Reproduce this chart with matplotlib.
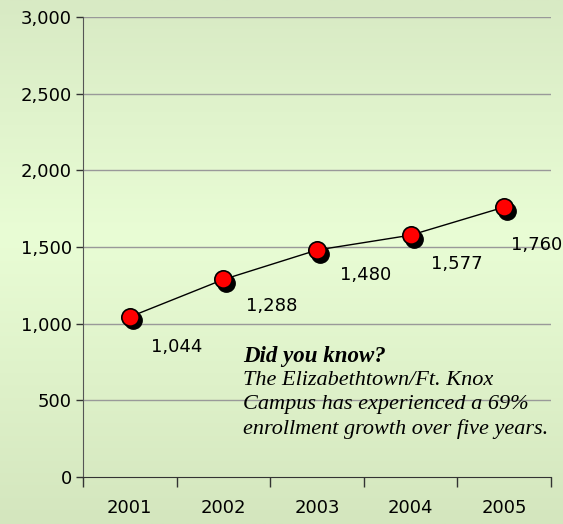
import numpy as np
import matplotlib.pyplot as plt
import matplotlib.transforms as mtransforms

years = ["2001", "2002", "2003", "2004", "2005"]
enrollment = [1044, 1288, 1480, 1577, 1760]
value_labels = ["1,044", "1,288", "1,480", "1,577", "1,760"]
y_ticks = [0, 500, 1000, 1500, 2000, 2500, 3000]
y_tick_labels = ["0", "500", "1,000", "1,500", "2,000", "2,500", "3,000"]
note_title = "Did you know?"
note_body = "The Elizabethtown/Ft. Knox\nCampus has experienced a 69%\nenrollment growth over five years."

# label offsets in points (last one pushed in to stay inside the figure)
label_offsets = [(34, -22), (35, -19), (35, -18), (33, -21), (23, -27)]

fig = plt.figure(figsize=(5.63, 5.24), dpi=100)

# vertical gradient background
bg = fig.add_axes([0, 0, 1, 1], zorder=-1)
top = np.array([216, 234, 196]) / 255
mid = np.array([233, 253, 213]) / 255
bot = np.array([212, 230, 190]) / 255
t = np.linspace(0, 1, 256)[:, None]
grad = np.where(t < 0.45, top + (mid - top) * (t / 0.45), mid + (bot - mid) * ((t - 0.45) / 0.55))
bg.imshow(grad[:, None, :], aspect="auto", extent=[0, 1, 0, 1])
bg.axis("off")

ax = fig.add_axes([0.1474, 0.0897, 0.8313, 0.8779])
ax.patch.set_alpha(0)
x = np.arange(len(years))

ax.set_xlim(-0.5, len(years) - 0.5)
ax.set_ylim(0, 3000)
ax.set_yticks(y_ticks)
ax.set_yticklabels(y_tick_labels, fontsize=13)
ax.set_xticks(x)
ax.set_xticklabels(years, fontsize=13)
ax.set_xticks(np.arange(-0.5, len(years)), minor=True)
ax.tick_params(axis="x", which="major", length=0, pad=15.5)
ax.tick_params(axis="x", which="minor", length=7, width=1, color="#333333")
ax.tick_params(axis="y", length=5, width=1, color="#333333", pad=3)

for v in y_ticks[1:]:
    ax.axhline(v, color="#999999", lw=1, zorder=1)

for s in ["top", "right"]:
    ax.spines[s].set_visible(False)
ax.spines["left"].set_color("#555555")
ax.spines["bottom"].set_color("#333333")

ax.plot(x, enrollment, color="black", lw=1, zorder=2)

shadow = mtransforms.offset_copy(ax.transData, fig=fig, x=3, y=-3.5, units="dots")
ax.plot(x, enrollment, "o", ms=12.5, color="black", mec="black", transform=shadow, zorder=3)
ax.plot(x, enrollment, "o", ms=12.5, color="#ff0000", mec="black", mew=1.2, zorder=4)

for xi, v, lab, off in zip(x, enrollment, value_labels, label_offsets):
    ax.annotate(lab, (xi, v), xytext=off, textcoords="offset points",
                ha="center", va="center", fontsize=13, annotation_clip=False)

fig.text(0.432, 0.3206, note_title, fontsize=16.5, style="italic", weight="bold",
         family="Liberation Serif", ha="left", va="center")
fig.text(0.432, 0.227, note_body, fontsize=16, style="italic",
         family="Liberation Serif", ha="left", va="center", linespacing=1.36)

fig.savefig("out.png", dpi=100)
